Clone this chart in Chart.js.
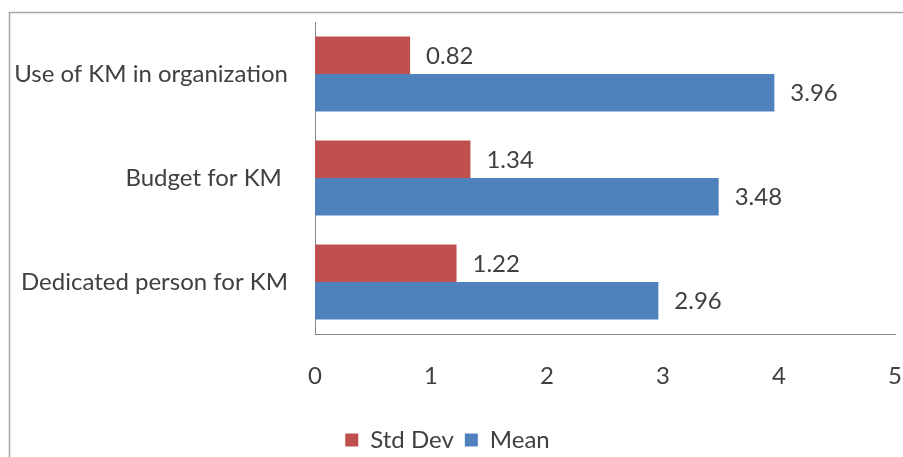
<!DOCTYPE html>
<html>
<head>
<meta charset="utf-8">
<script src="https://cdn.jsdelivr.net/npm/chart.js@4.4.1/dist/chart.umd.min.js"></script>
<style>
  html, body { margin: 0; padding: 0; background: #ffffff; }
  #wrap { position: relative; width: 903px; height: 457px; }
</style>
</head>
<body>
<div id="wrap"><canvas id="chart" width="903" height="457"></canvas></div>
<script>
// Survey items (top to bottom) and their statistics
const categories = ["Use of KM in organization", "Budget for KM ", "Dedicated person for KM"];
const stdDev = [0.82, 1.34, 1.22];
const mean = [3.96, 3.48, 2.96];
const xTicks = [0, 1, 2, 3, 4, 5];

const FONT = "Lato, 'Open Sans', sans-serif";
const TEXT = "#404040";
const SIZE = 24;

// Frame around the chart area (left and top edges)
const framePlugin = {
  id: "frame",
  beforeDraw(chart) {
    const ctx = chart.ctx;
    ctx.save();
    ctx.strokeStyle = "#a6a6a6";
    ctx.lineWidth = 1.5;
    ctx.beginPath();
    ctx.moveTo(9.5, 457);
    ctx.lineTo(9.5, 12.5);
    ctx.lineTo(903, 12.5);
    ctx.stroke();
    ctx.restore();
  }
};

// Value labels to the right of each bar
const valueLabels = {
  id: "valueLabels",
  afterDatasetsDraw(chart) {
    const ctx = chart.ctx;
    ctx.save();
    ctx.font = SIZE + "px " + FONT;
    ctx.fillStyle = TEXT;
    ctx.textAlign = "left";
    ctx.textBaseline = "middle";
    chart.data.datasets.forEach((ds, i) => {
      chart.getDatasetMeta(i).data.forEach((bar, j) => {
        ctx.fillText(ds.data[j].toFixed(2), bar.x + 16, bar.y + 1);
      });
    });
    ctx.restore();
  }
};

new Chart(document.getElementById("chart"), {
  type: "bar",
  data: {
    labels: categories,
    datasets: [
      { label: "Std Dev", data: stdDev, backgroundColor: "#c0504d", borderWidth: 0 },
      { label: "Mean", data: mean, backgroundColor: "#4f81bd", borderWidth: 0 }
    ]
  },
  options: {
    indexAxis: "y",
    responsive: false,
    animation: false,
    events: [],
    layout: { padding: { top: 22, right: 8, left: 0, bottom: -5 } },
    datasets: { bar: { categoryPercentage: 0.72, barPercentage: 1.0 } },
    scales: {
      x: {
        min: 0,
        max: 5,
        afterBuildTicks(scale) { scale.ticks = xTicks.map(v => ({ value: v })); },
        grid: { display: false, drawTicks: false },
        border: { display: true, color: "#868686", width: 1 },
        ticks: { color: TEXT, font: { family: FONT, size: SIZE }, padding: 28 },
        afterFit(scale) {
          scale.height = 83;
          scale.paddingLeft = 0;
          scale.paddingRight = 0;
        }
      },
      y: {
        grid: { display: false, drawTicks: false },
        border: { display: true, color: "#868686", width: 1 },
        ticks: { color: TEXT, font: { family: FONT, size: SIZE }, padding: 27 },
        afterFit(scale) {
          scale.width = 315;
          scale.paddingTop = 0;
          scale.paddingBottom = 0;
        }
      }
    },
    plugins: {
      legend: {
        position: "bottom",
        labels: {
          color: TEXT,
          font: { family: FONT, size: SIZE },
          boxWidth: 13,
          boxHeight: 13,
          padding: 11
        }
      },
      tooltip: { enabled: false }
    }
  },
  plugins: [framePlugin, valueLabels]
});
</script>
</body>
</html>
